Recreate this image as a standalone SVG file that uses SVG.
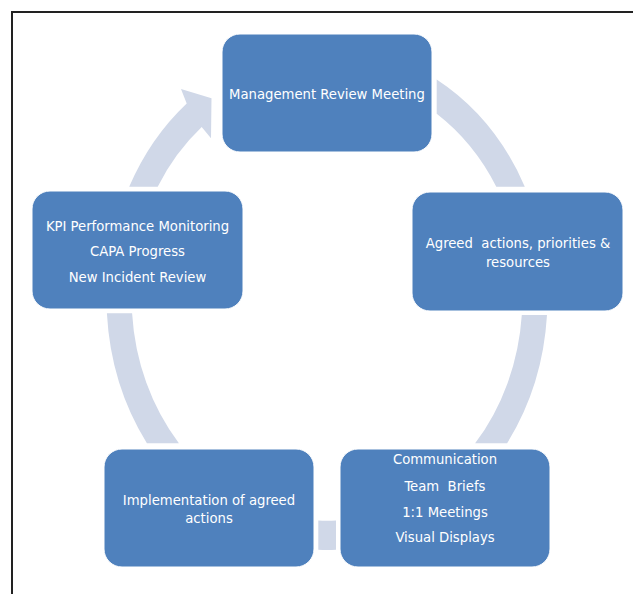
<svg xmlns="http://www.w3.org/2000/svg" width="633" height="594" viewBox="0 0 633 594">
<style>
.node{fill:#4F81BD;stroke:#ffffff;stroke-width:1}
.arc{fill:#D0D8E8}
.t{font-family:"DejaVu Sans Condensed","DejaVu Sans",sans-serif;font-size:14.7px;fill:#ffffff;text-anchor:middle;white-space:pre}
</style>
<rect width="633" height="594" fill="#ffffff"/>
<path d="M12,594 V12 H633" fill="none" stroke="#222222" stroke-width="2"/>
<g id="connectors">
<path class="arc" d="M436.7,79.4 A220.5,252 0 0 1 524.8,186.7 L496.3,186.7 A195.4,222.7 0 0 0 436.7,113.7 Z"/>
<path class="arc" d="M547,315 A220.5,252 0 0 1 507.1,443.3 L475.1,443.3 A195.4,222.7 0 0 0 521.8,315 Z"/>
<path class="arc" d="M336,549.8 A220.5,252 0 0 1 318.3,549.8 L318.3,520.5 A195.4,222.7 0 0 0 336,520.5 Z"/>
<path class="arc" d="M146.9,443.3 A220.5,252 0 0 1 106.9,313.3 L132.1,313.3 A195.4,222.7 0 0 0 178.9,443.3 Z"/>
<path class="arc" d="M129.2,186.7 A220.5,252 0 0 1 186.7,103.4 L181,89 L211.5,98.3 L211,138.3 L201.7,127.1 A195.4,222.7 0 0 0 157.7,186.7 Z"/>
</g>
<g id="node-management">
<rect class="node" x="222" y="34" width="210" height="118" rx="18"/>
<text class="t" x="327" y="99">Management Review Meeting</text>
</g>
<g id="node-agreed">
<rect class="node" x="412" y="192" width="211" height="119" rx="18"/>
<text class="t" x="518" y="248">Agreed  actions, priorities &amp;</text>
<text class="t" x="518" y="267">resources</text>
</g>
<g id="node-kpi">
<rect class="node" x="32" y="191" width="211" height="118" rx="18"/>
<text class="t" x="137.5" y="231">KPI Performance Monitoring</text>
<text class="t" x="137.5" y="256">CAPA Progress</text>
<text class="t" x="137.5" y="282">New Incident Review</text>
</g>
<g id="node-implementation">
<rect class="node" x="104" y="449" width="210" height="118" rx="18"/>
<text class="t" x="209" y="505">Implementation of agreed</text>
<text class="t" x="209" y="523">actions</text>
</g>
<g id="node-communication">
<rect class="node" x="340" y="449" width="210" height="118" rx="18"/>
<text class="t" x="445" y="464">Communication</text>
<text class="t" x="445" y="491">Team  Briefs</text>
<text class="t" x="445" y="517">1:1 Meetings</text>
<text class="t" x="445" y="542">Visual Displays</text>
</g>
</svg>
